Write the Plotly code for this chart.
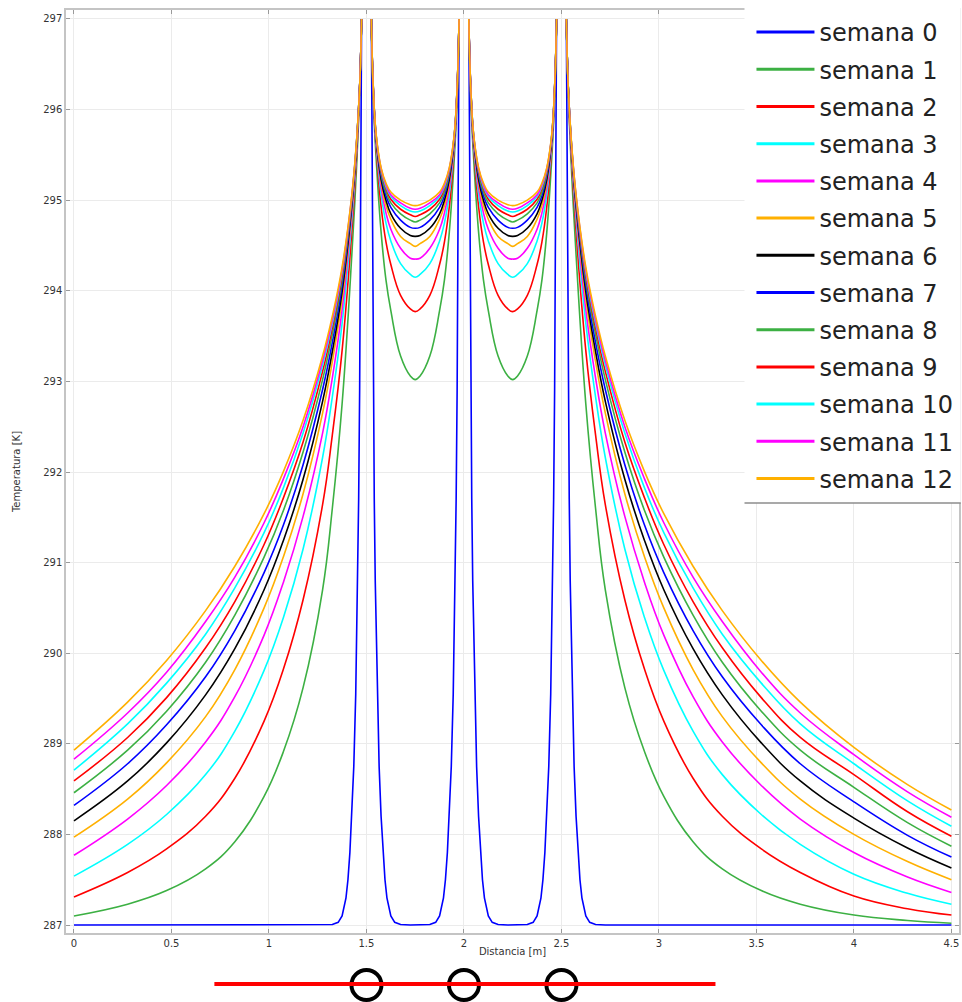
import plotly.graph_objects as go

# ---------------------------------------------------------------------------
# Ground temperature profiles around three buried pipes, one curve per week
# ---------------------------------------------------------------------------
WEEK_LABELS = [f"semana {k}" for k in range(13)]
WEEK_COLORS = ["#0000ff", "#3cb043", "#ff0000", "#00ffff", "#ff00ff", "#ffb000",
               "#000000", "#0000ff", "#3cb043", "#ff0000", "#00ffff", "#ff00ff", "#ffb000"]

PIPES = [1.5, 2.0, 2.5]          # pipe centres [m]
PIPE_RADIUS = 0.025              # [m]
X_TICKS = [0, 0.5, 1, 1.5, 2, 2.5, 3, 3.5, 4, 4.5]
Y_TICKS = list(range(287, 298))

# distance from the pipe wall [m] at which each profile is sampled
D_OUTER_LEFT = [1.475, 1.2, 1.0, 0.8, 0.65, 0.5, 0.4, 0.3, 0.2, 0.15, 0.1, 0.05, 0.025, 0.01, 0.0]
D_GAP = [0.0, 0.01, 0.025, 0.05, 0.075, 0.1, 0.15, 0.2, 0.225]
D_OUTER_RIGHT = [0.0, 0.01, 0.025, 0.05, 0.1, 0.15, 0.2, 0.3, 0.4, 0.5, 0.65, 0.8,
                 1.0, 1.2, 1.475, 1.75, 1.975]

# week 0: only a thin layer next to the pipes has warmed up
W0_D_LEFT = [1.475, 0.2, 0.15, 0.12, 0.1, 0.08, 0.07, 0.06, 0.05, 0.04, 0.03, 0.02,
             0.015, 0.01, 0.006, 0.003, 0.0]
W0_LEFT = [287.0, 287.0, 287.005, 287.03, 287.1, 287.3, 287.5, 287.8, 288.2, 288.75,
           289.55, 290.8, 291.7, 292.9, 294.2, 295.6, 297.0]
W0_D_GAP = [0.0, 0.003, 0.006, 0.01, 0.015, 0.02, 0.03, 0.04, 0.05, 0.06, 0.07, 0.08,
            0.1, 0.12, 0.15, 0.2, 0.225]
W0_GAP = [297.0, 295.6, 294.2, 292.9, 291.7, 290.8, 289.55, 288.75, 288.2, 287.8, 287.5,
          287.3, 287.1, 287.03, 287.005, 287.0, 287.0]
W0_D_RIGHT = [0.0, 0.003, 0.006, 0.01, 0.015, 0.02, 0.03, 0.04, 0.05, 0.06, 0.07, 0.08,
              0.1, 0.12, 0.15, 0.2, 1.975]
W0_RIGHT = [297.0, 295.6, 294.2, 292.9, 291.7, 290.8, 289.55, 288.75, 288.2, 287.8, 287.5,
            287.3, 287.1, 287.03, 287.005, 287.0, 287.0]

# weeks 1..12, outer side left of the first pipe (sampled at D_OUTER_LEFT)
T_LEFT = [
    [287.10, 287.23, 287.38, 287.62, 287.92, 288.42, 288.92, 289.62, 290.70, 291.60, 292.75, 294.40, 295.40, 296.20, 297.0],
    [287.31, 287.58, 287.84, 288.20, 288.62, 289.25, 289.83, 290.59, 291.64, 292.41, 293.34, 294.66, 295.51, 296.22, 297.0],
    [287.54, 287.89, 288.22, 288.66, 289.14, 289.81, 290.40, 291.15, 292.16, 292.83, 293.64, 294.79, 295.57, 296.23, 297.0],
    [287.77, 288.17, 288.54, 289.02, 289.52, 290.20, 290.79, 291.51, 292.43, 293.04, 293.79, 294.86, 295.59, 296.24, 297.0],
    [287.97, 288.39, 288.79, 289.30, 289.82, 290.50, 291.07, 291.76, 292.65, 293.22, 293.91, 294.91, 295.62, 296.24, 297.0],
    [288.15, 288.59, 289.01, 289.54, 290.05, 290.70, 291.25, 291.92, 292.78, 293.33, 293.99, 294.94, 295.63, 296.24, 297.0],
    [288.32, 288.78, 289.21, 289.74, 290.25, 290.89, 291.42, 292.08, 292.91, 293.43, 294.06, 294.97, 295.64, 296.25, 297.0],
    [288.46, 288.93, 289.36, 289.90, 290.42, 291.06, 291.58, 292.22, 293.02, 293.52, 294.12, 295.00, 295.66, 296.25, 297.0],
    [288.59, 289.07, 289.51, 290.06, 290.57, 291.20, 291.72, 292.33, 293.11, 293.59, 294.17, 295.02, 295.66, 296.25, 297.0],
    [288.71, 289.22, 289.67, 290.21, 290.72, 291.33, 291.83, 292.43, 293.18, 293.64, 294.21, 295.04, 295.67, 296.25, 297.0],
    [288.83, 289.34, 289.79, 290.35, 290.84, 291.44, 291.93, 292.50, 293.23, 293.68, 294.23, 295.05, 295.67, 296.25, 297.0],
    [288.93, 289.46, 289.92, 290.47, 290.96, 291.54, 292.01, 292.57, 293.28, 293.72, 294.26, 295.06, 295.68, 296.25, 297.0],
]

# weeks 1..12, half of the gap between two neighbouring pipes (sampled at D_GAP)
T_GAP = [
    [297.0, 296.10, 295.45, 294.65, 294.12, 293.78, 293.28, 293.06, 293.02],
    [297.0, 296.16, 295.56, 294.93, 294.54, 294.29, 293.95, 293.80, 293.77],
    [297.0, 296.19, 295.61, 295.07, 294.75, 294.55, 294.30, 294.18, 294.15],
    [297.0, 296.20, 295.64, 295.14, 294.86, 294.68, 294.47, 294.36, 294.35],
    [297.0, 296.22, 295.66, 295.20, 294.94, 294.79, 294.60, 294.52, 294.49],
    [297.0, 296.22, 295.67, 295.23, 295.00, 294.85, 294.69, 294.61, 294.60],
    [297.0, 296.23, 295.68, 295.27, 295.05, 294.92, 294.78, 294.70, 294.69],
    [297.0, 296.24, 295.70, 295.30, 295.09, 294.97, 294.85, 294.78, 294.76],
    [297.0, 296.24, 295.70, 295.32, 295.13, 295.01, 294.90, 294.84, 294.82],
    [297.0, 296.24, 295.71, 295.34, 295.15, 295.04, 294.94, 294.88, 294.87],
    [297.0, 296.25, 295.71, 295.35, 295.17, 295.06, 294.97, 294.91, 294.90],
    [297.0, 296.25, 295.72, 295.36, 295.19, 295.09, 295.00, 294.95, 294.94],
]

# weeks 1..12, outer side right of the last pipe (sampled at D_OUTER_RIGHT)
T_RIGHT = [
    [297.0, 296.20, 295.40, 294.40, 292.75, 291.60, 290.70, 289.62, 288.92, 288.42, 287.92, 287.62, 287.38, 287.23, 287.11, 287.05, 287.02],
    [297.0, 296.22, 295.51, 294.66, 293.34, 292.41, 291.64, 290.59, 289.83, 289.25, 288.62, 288.20, 287.84, 287.58, 287.32, 287.18, 287.11],
    [297.0, 296.23, 295.57, 294.79, 293.64, 292.83, 292.16, 291.15, 290.40, 289.81, 289.14, 288.66, 288.22, 287.89, 287.56, 287.35, 287.23],
    [297.0, 296.24, 295.59, 294.86, 293.79, 293.04, 292.43, 291.51, 290.79, 290.20, 289.52, 289.02, 288.54, 288.17, 287.80, 287.53, 287.36],
    [297.0, 296.24, 295.62, 294.91, 293.91, 293.22, 292.65, 291.76, 291.07, 290.50, 289.82, 289.30, 288.79, 288.39, 288.00, 287.70, 287.50],
    [297.0, 296.24, 295.63, 294.94, 293.99, 293.33, 292.78, 291.92, 291.25, 290.70, 290.05, 289.54, 289.01, 288.59, 288.18, 287.85, 287.63],
    [297.0, 296.25, 295.64, 294.97, 294.06, 293.43, 292.91, 292.08, 291.42, 290.89, 290.25, 289.74, 289.21, 288.78, 288.36, 287.99, 287.75],
    [297.0, 296.25, 295.66, 295.00, 294.12, 293.52, 293.02, 292.22, 291.58, 291.06, 290.42, 289.90, 289.36, 288.93, 288.52, 288.13, 287.87],
    [297.0, 296.25, 295.66, 295.02, 294.17, 293.59, 293.11, 292.33, 291.72, 291.20, 290.57, 290.06, 289.51, 289.07, 288.66, 288.25, 287.98],
    [297.0, 296.25, 295.67, 295.04, 294.21, 293.64, 293.18, 292.43, 291.83, 291.33, 290.72, 290.21, 289.67, 289.22, 288.78, 288.37, 288.09],
    [297.0, 296.25, 295.67, 295.05, 294.23, 293.68, 293.23, 292.50, 291.93, 291.44, 290.84, 290.35, 289.79, 289.34, 288.88, 288.47, 288.19],
    [297.0, 296.25, 295.68, 295.06, 294.26, 293.72, 293.28, 292.57, 292.01, 291.54, 290.96, 290.47, 289.92, 289.46, 288.96, 288.55, 288.27],
]

# red ground line and pipe sections drawn under the axis
SECTION_SPAN = [0.72, 3.29]


def profile_xy(d_left, t_left, d_gap, t_gap, d_right, t_right):
    """Place the sampled profiles around the pipes; the pipe interiors stay empty."""
    walls_l = [p - PIPE_RADIUS for p in PIPES]
    walls_r = [p + PIPE_RADIUS for p in PIPES]
    xs = [walls_l[0] - d for d in d_left]
    ys = list(t_left)
    for a, b in zip(walls_r[:-1], walls_l[1:]):
        xs.append(None)
        ys.append(None)
        # each gap is symmetric about its midpoint
        xs += [a + d for d in d_gap] + [b - d for d in reversed(d_gap[:-1])]
        ys += list(t_gap) + list(reversed(t_gap[:-1]))
    xs.append(None)
    ys.append(None)
    xs += [walls_r[-1] + d for d in d_right]
    ys += list(t_right)
    return xs, ys


fig = go.Figure()

x0, y0 = profile_xy(W0_D_LEFT, W0_LEFT, W0_D_GAP, W0_GAP, W0_D_RIGHT, W0_RIGHT)
fig.add_trace(go.Scatter(x=x0, y=y0, mode="lines", name=WEEK_LABELS[0], legendgroup="w0",
                         showlegend=False, line=dict(color=WEEK_COLORS[0], width=1.6)))

for k in range(1, 13):
    xk, yk = profile_xy(D_OUTER_LEFT, T_LEFT[k - 1], D_GAP, T_GAP[k - 1],
                        D_OUTER_RIGHT, T_RIGHT[k - 1])
    fig.add_trace(go.Scatter(x=xk, y=yk, mode="lines", name=WEEK_LABELS[k],
                             legendgroup=f"w{k}", showlegend=False,
                             line=dict(color=WEEK_COLORS[k], width=1.6,
                                       shape="spline", smoothing=1.2)))

# legend entries, drawn with a heavier stroke than the curves
for k in range(13):
    fig.add_trace(go.Scatter(x=[None], y=[None], mode="lines", name=WEEK_LABELS[k],
                             legendgroup=f"w{k}", showlegend=True,
                             line=dict(color=WEEK_COLORS[k], width=3)))

FONT = "DejaVu Sans"
AXIS_GRAY = "#c4c4c4"

axis_common = dict(
    showgrid=True, gridcolor="#ebebeb", gridwidth=1, zeroline=False,
    showline=True, linecolor=AXIS_GRAY, linewidth=1.5, mirror="ticks",
    ticks="inside", ticklen=4, tickwidth=1, tickcolor="#9a9a9a",
    tickfont=dict(family=FONT, size=10, color="#333333"),
)

fig.update_xaxes(range=[-0.041, 4.539], tickvals=X_TICKS,
                 title=dict(text="Distancia [m]", font=dict(family=FONT, size=10, color="#333333"),
                            standoff=0),
                 **axis_common)
fig.update_yaxes(range=[286.912, 297.099], tickvals=Y_TICKS,
                 title=dict(text="Temperatura [K]", font=dict(family=FONT, size=10, color="#333333"),
                            standoff=21),
                 **axis_common)

shapes = []
# white panel behind the legend with its bottom rule
shapes.append(dict(type="rect", xref="paper", yref="paper", x0=0.7598, x1=1.002,
                   y0=0.4659, y1=1.012, fillcolor="white", line=dict(width=0), layer="above"))
shapes.append(dict(type="line", xref="paper", yref="paper", x0=0.7598, x1=1.002,
                   y0=0.4659, y1=0.4659, line=dict(color="#8c8c8c", width=1.5), layer="above"))
# pipe cross-sections below the axis
for p in PIPES:
    shapes.append(dict(type="circle", xref="x", yref="paper", xsizemode="pixel",
                       ysizemode="pixel", xanchor=p, yanchor=-0.0563,
                       x0=-15, x1=15, y0=-15, y1=15,
                       line=dict(color="black", width=4), fillcolor="rgba(0,0,0,0)"))
shapes.append(dict(type="line", xref="x", yref="paper", x0=SECTION_SPAN[0], x1=SECTION_SPAN[1],
                   y0=-0.0553, y1=-0.0553, line=dict(color="#ff0000", width=4)))

fig.update_layout(
    width=962, height=1002,
    margin=dict(l=66, r=1, t=10, b=69, pad=0),
    paper_bgcolor="white", plot_bgcolor="white",
    font=dict(family=FONT, color="#333333"),
    shapes=shapes,
    showlegend=True,
    legend=dict(x=0.7676, xanchor="left", y=1.0, yanchor="top",
                bgcolor="rgba(0,0,0,0)", borderwidth=0,
                font=dict(family=FONT, size=24, color="#222222"),
                tracegroupgap=3, itemwidth=58, traceorder="grouped"),
)

fig.write_html("out.html")
